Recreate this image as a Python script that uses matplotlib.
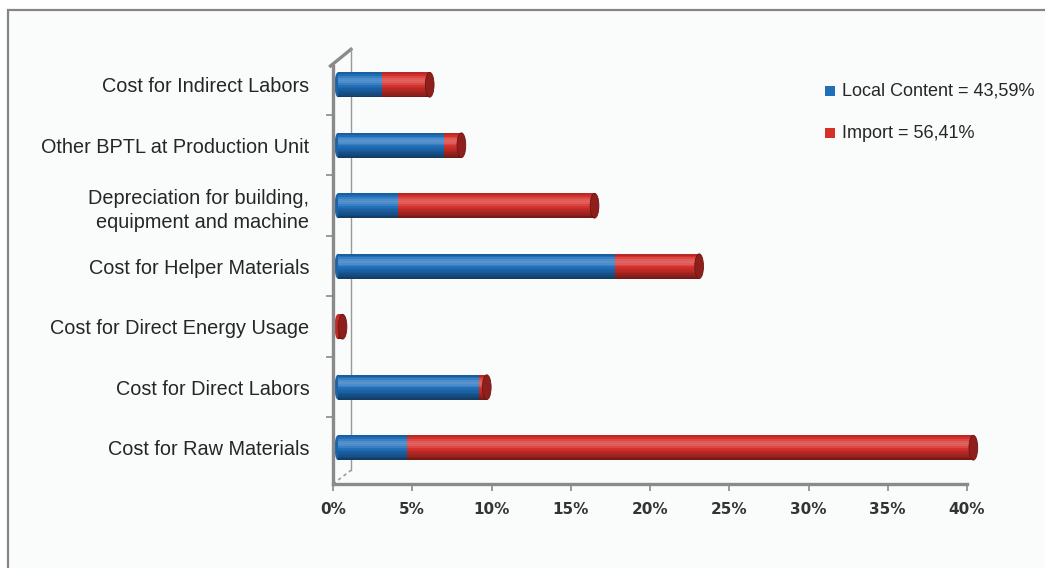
import matplotlib
matplotlib.use("Agg")
import matplotlib.pyplot as plt
import numpy as np
from matplotlib.patches import Ellipse, Rectangle
from matplotlib.lines import Line2D

# --- data, bottom -> top ----------------------------------------------------------------------
categories = ["Cost for Raw Materials", "Cost for Direct Labors", "Cost for Direct Energy Usage",
              "Cost for Helper Materials", "Depreciation for building,\nequipment and machine",
              "Other BPTL at Production Unit", "Cost for Indirect Labors"]
local_content = [4.4, 8.9, 0.0, 17.5, 3.8, 6.7, 2.8]
import_share = [35.7, 0.5, 0.3, 5.3, 12.4, 1.1, 3.0]
xticks = [0, 5, 10, 15, 20, 25, 30, 35, 40]
xtick_labels = ["0%", "5%", "10%", "15%", "20%", "25%", "30%", "35%", "40%"]
legend_labels = ["Local Content = 43,59%", "Import = 56,41%"]

BLUE = "#1f6fbb"
RED = "#d6302b"
CAP = "#8e1f1c"
AXIS = "#8a8a8a"
BAR_H = 0.41
N_SLICE = 14
DEPTH = 0.3          # bars sit a little behind the front axis (3D look)


def shade(c, k):
    c = np.array(matplotlib.colors.to_rgb(c))
    if k >= 0:
        return tuple(c + (1 - c) * k)
    return tuple(c * (1 + k))


def cylinder(ax, y, left, width, color):
    # stack thin slices so the bar looks like a lit cylinder
    if width <= 0:
        return
    edges = np.linspace(-BAR_H / 2, BAR_H / 2, N_SLICE + 1)
    for lo, hi in zip(edges[:-1], edges[1:]):
        t = ((lo + hi) / 2 + BAR_H / 2) / BAR_H      # 0 bottom -> 1 top
        k = 0.28 * np.exp(-((t - 0.68) / 0.2) ** 2) - 0.5 * (1 - t) ** 3 - 0.25 * t ** 8
        ax.barh(y + (lo + hi) / 2, width, left=left, height=hi - lo + 0.004,
                color=shade(color, k), edgecolor="none", zorder=3, clip_on=False)


fig = plt.figure(figsize=(10.45, 5.68), dpi=100)
frame = Rectangle((8 / 1045, -0.02), 1.05, 1 - 10 / 568 + 0.02, transform=fig.transFigure,
                  facecolor="#fafbfb", edgecolor="#858585", lw=1.6, zorder=-5)
fig.patches.append(frame)

ax = fig.add_axes([333 / 1045, 1 - 484 / 568, 634 / 1045, 418 / 568])
ax.set_facecolor("none")

y = np.arange(len(categories))
for yi, lc, im in zip(y, local_content, import_share):
    start_col = BLUE if lc > 0 else RED
    ax.add_patch(Ellipse((DEPTH, yi), 0.4, BAR_H, facecolor=shade(start_col, -0.1),
                         edgecolor="none", zorder=2, clip_on=False))
    cylinder(ax, yi, DEPTH, lc, BLUE)
    cylinder(ax, yi, DEPTH + lc, im, RED)
    ax.add_patch(Ellipse((DEPTH + lc + im, yi), 0.55, BAR_H, facecolor=CAP, edgecolor="#6e1412",
                         lw=0.6, zorder=4, clip_on=False))

ax.set_xlim(0, 40)
ax.set_ylim(-0.6, 6.31)
ax.set_xticks(xticks)
ax.set_xticklabels(xtick_labels, fontsize=11, fontweight="bold", color="#333333")
ax.set_yticks(y)
ax.set_yticklabels(categories, fontsize=14.3, color="#262626", fontfamily="Liberation Sans")
ax.set_yticks(y[:-1] + 0.5, minor=True)
ax.tick_params(axis="y", which="major", length=0, pad=17)
ax.tick_params(axis="y", which="minor", length=5, width=1.2, color=AXIS, direction="out")
ax.tick_params(axis="x", length=5, width=1.2, color=AXIS, direction="out", pad=8)
for lab in ax.get_yticklabels():
    lab.set_linespacing(1.35)

for s in ("top", "right"):
    ax.spines[s].set_visible(False)
for s in ("left", "bottom"):
    ax.spines[s].set_color(AXIS)
    ax.spines[s].set_linewidth(2.4)

# 3D wall edges
wx = 18 / 634
ax.add_line(Line2D([-0.004, wx], [1.0, 1.04], transform=ax.transAxes, color=AXIS, lw=2.4,
                   clip_on=False))
ax.add_line(Line2D([wx, wx], [1.04, 0.033], transform=ax.transAxes, color="#9a9a9a", lw=1.0,
                   clip_on=False))
ax.add_line(Line2D([0, wx], [0.0, 0.033], transform=ax.transAxes, color="#9a9a9a", lw=1.2,
                   ls=(0, (2, 2)), clip_on=False))

# legend
for i, (lab, col) in enumerate(zip(legend_labels, [BLUE, RED])):
    py = 91 + 42 * i
    fig.patches.append(Rectangle((825 / 1045, 1 - (py + 5) / 568), 10 / 1045, 10 / 568,
                                 transform=fig.transFigure, facecolor=col, edgecolor="none"))
    fig.text(842 / 1045, 1 - py / 568, lab, fontsize=13, color="#262626",
             fontfamily="Liberation Sans", va="center", ha="left")

fig.savefig("out.png", dpi=100)
